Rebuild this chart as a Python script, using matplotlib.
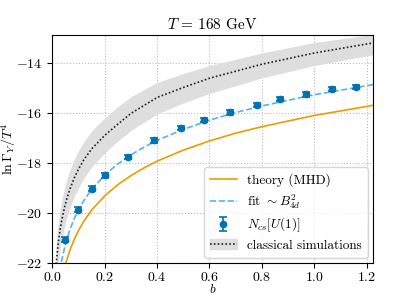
import numpy as np
import matplotlib
matplotlib.use('Agg')
import matplotlib.pyplot as plt
from matplotlib.patches import Patch

plt.rcParams['font.family'] = 'serif'
plt.rcParams['font.serif'] = ['cmr10']
plt.rcParams['mathtext.fontset'] = 'cm'
plt.rcParams['axes.formatter.use_mathtext'] = True
plt.rcParams['font.size'] = 9.5

# lattice points N_cs[U(1)]
b_pts = [0.05, 0.10, 0.15, 0.20, 0.29, 0.39, 0.49, 0.58, 0.68, 0.78, 0.87, 0.97, 1.07, 1.16]
lnG_pts = [-21.08, -19.87, -19.03, -18.49, -17.76, -17.10, -16.60, -16.28, -15.98, -15.69, -15.45, -15.26, -15.05, -14.97]
lnG_err = [0.10, 0.10, 0.10, 0.10, 0.09, 0.09, 0.09, 0.09, 0.09, 0.09, 0.09, 0.09, 0.09, 0.09]

# fit ~ B_4d^2
b_fit = [0.035, 0.04, 0.05, 0.06, 0.07, 0.085, 0.1, 0.12, 0.15, 0.2, 0.25, 0.3, 0.35, 0.4, 0.5, 0.6, 0.7, 0.8, 1.0, 1.25]
lnG_fit = [-21.97, -21.71, -21.26, -20.90, -20.59, -20.20, -19.88, -19.51, -19.06, -18.49, -18.04, -17.68,
           -17.37, -17.10, -16.66, -16.29, -15.98, -15.72, -15.27, -14.82]

# theory (MHD)
b_th = [0.052, 0.055, 0.06, 0.07, 0.085, 0.1, 0.12, 0.15, 0.2, 0.25, 0.3, 0.35, 0.4, 0.5, 0.6, 0.7, 0.8, 1.0, 1.25]
lnG_th = [-22.00, -21.90, -21.73, -21.42, -21.03, -20.71, -20.34, -19.89, -19.32, -18.87, -18.51,
          -18.20, -17.93, -17.49, -17.12, -16.81, -16.55, -16.10, -15.65]

# classical simulations: central curve and band
b_cl = [0.015, 0.02, 0.025, 0.03, 0.04, 0.05, 0.06, 0.07, 0.085, 0.1, 0.12, 0.15, 0.2, 0.25, 0.3, 0.4, 0.5, 0.6, 0.8, 1.0, 1.25]
lnG_cl = [-22.05, -21.47, -21.02, -20.66, -20.09, -19.64, -19.28, -18.97, -18.58, -18.25, -17.88, -17.44,
          -16.90, -16.45, -16.02, -15.38, -14.98, -14.61, -14.05, -13.60, -13.15]
lnG_cl_lo = [-22.90, -22.30, -21.85, -21.45, -20.85, -20.40, -20.03, -19.73, -19.32, -19.00, -18.62, -18.17,
             -17.60, -17.13, -16.70, -16.04, -15.60, -15.22, -14.60, -14.10, -13.62]
lnG_cl_hi = [-21.25, -20.67, -20.22, -19.86, -19.31, -18.86, -18.51, -18.21, -17.83, -17.51, -17.15, -16.72,
             -16.20, -15.75, -15.35, -14.78, -14.42, -14.10, -13.60, -13.18, -12.82]

fig = plt.figure(figsize=(4.15, 2.97), dpi=100)
ax = fig.add_axes([0.126, 0.115, 0.773, 0.767])

band = ax.fill_between(b_cl, lnG_cl_lo, lnG_cl_hi, color='#dedede', lw=0, zorder=1)
cl_line, = ax.plot(b_cl, lnG_cl, ls=(0, (1, 1.3)), color='#222222', lw=1.2, zorder=3)
th_line, = ax.plot(b_th, lnG_th, color='#E69F00', lw=1.2, zorder=2)
fit_line, = ax.plot(b_fit, lnG_fit, ls='--', color='#56B4E9', lw=1.2, zorder=2)
pts = ax.errorbar(b_pts, lnG_pts, yerr=lnG_err, fmt='o', color='#0072B2', ms=4.5,
                  capsize=3, elinewidth=1.2, capthick=1.2, zorder=4)

ax.set_xlim(0, 1.225)
ax.set_ylim(-22, -12.88)
ax.set_xticks(np.arange(0, 1.21, 0.2))
ax.set_yticks([-22, -20, -18, -16, -14])
ax.tick_params(labelsize=10)
ax.tick_params(axis='x', pad=2.5)
ax.grid(True, ls=':', color='#bbbbbb', lw=0.8)
ax.set_axisbelow(True)
ax.set_xlabel(r'$b$', fontsize=9.5)
ax.xaxis.set_label_coords(0.5, -0.088)
ax.xaxis.label.set_va('top')
ax.set_ylabel(r'$\ln\Gamma_Y/T^4$', labelpad=-1, fontsize=10)
ax.set_title(r'$T\,=\,168$ GeV', fontsize=11, pad=4)

ax.legend([th_line, fit_line, pts, (Patch(color='#dedede'), cl_line)],
          ['theory (MHD)', r'fit $\sim B_{4d}^2$', r'$N_{cs}[U(1)]$', 'classical simulations'],
          loc='lower right', fontsize=9.5, handlelength=2.0, labelspacing=0.38,
          borderpad=0.45, borderaxespad=0.4)

fig.savefig('out.png', dpi=100)
